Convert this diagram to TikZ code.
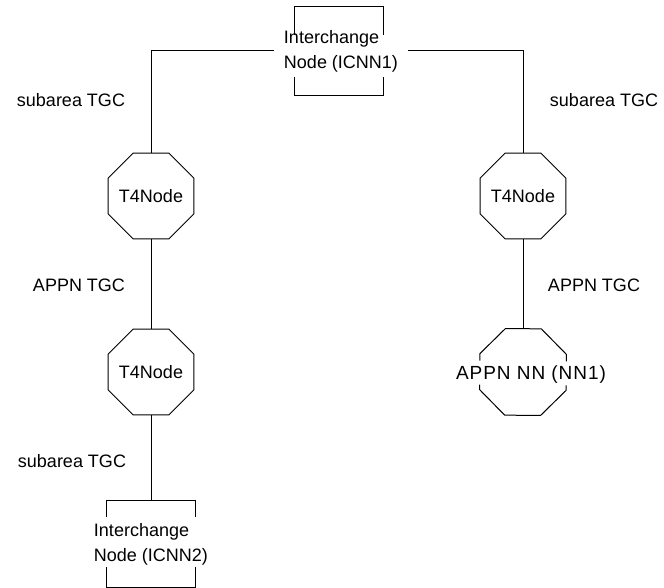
\documentclass[tikz,border=0pt]{standalone}
\usepackage{fontspec}
\setmainfont{Liberation Sans}
\usetikzlibrary{positioning, shapes.geometric}

\tikzset{
  octa/.style={regular polygon, regular polygon sides=8, draw, line width=1pt,
    minimum size=93pt, inner sep=0pt},
  icbox/.style={rectangle, minimum width=88pt, minimum height=88pt, inner sep=0pt},
  lbl/.style={inner sep=0pt, font=\fontsize{18pt}{25pt}\selectfont},
  link/.style={line width=1pt},
}

\begin{document}
\begin{tikzpicture}[x=1pt, y=1pt]
  \useasboundingbox (0,0) rectangle (664,-588);

  % Define nodes
  \node[icbox] (icnn1) at (339,-51) {};
  \node[lbl, align=left, inner xsep=10pt] (icnn1txt) at (341,-51) {Interchange\\Node (ICNN1)};
  \node[octa] (t4a) at (151,-196) {};
  \node[lbl] (t4atxt) at (t4a) {T4Node};
  \node[octa] (t4c) at (151,-372) {};
  \node[lbl] (t4ctxt) at (t4c) {T4Node};
  \node[icbox, minimum width=89pt, minimum height=86pt] (icnn2) at (151,-544) {};
  \node[lbl, align=left] (icnn2txt) at (icnn2) {Interchange\\Node (ICNN2)};
  \node[octa] (t4b) at (523,-196) {};
  \node[lbl] (t4btxt) at (t4b) {T4Node};
  \node[octa, draw=none] (nn1) at (523,-372) {};
  \node[lbl, font=\fontsize{19pt}{25pt}\selectfont\addfontfeature{LetterSpace=5}] (nn1txt)
    at ([xshift=8pt,yshift=-3pt]nn1.center) {APPN NN (NN1)};

  % Link labels
  \node[lbl] (sub1) at (71,-100) {subarea TGC};
  \node[lbl] (sub2) at (604,-100) {subarea TGC};
  \node[lbl] (appn1) at (79,-285) {APPN TGC};
  \node[lbl] (appn2) at (594,-285) {APPN TGC};
  \node[lbl] (sub3) at (72,-461) {subarea TGC};

  % Open boxes and the open octagon
  \draw[link] ([yshift=-28pt]icnn1.north west) |- (icnn1.north east) -- ++(0,-28);
  \draw[link] ([yshift=18pt]icnn1.south west) |- (icnn1.south east) -- ++(0,18);
  \draw[link] ([yshift=-16pt]icnn2.north west) |- (icnn2.north east) -- ++(0,-16);
  \draw[link] ([yshift=20pt]icnn2.south west) |- (icnn2.south east) -- ++(0,20);
  \draw[link] ([yshift=-7pt]nn1.157.5) -- (nn1.157.5) -- (nn1.112.5)
    -- (nn1.67.5) -- (nn1.22.5) -- ++(0,-7);
  \draw[link] ([yshift=5pt]nn1.202.5) -- (nn1.202.5) -- (nn1.247.5)
    -- (nn1.292.5) -- (nn1.337.5) -- ++(0,5);

  % Connect the nodes
  \draw[link] (icnn1txt.west) -| (t4a.north);
  \draw[link] (icnn1txt.east) -| (t4b.north);
  \draw[link] (t4a.south) -- (t4c.north);
  \draw[link] (t4c.south) -- (icnn2.north);
  \draw[link] (t4b.south) -- (nn1.north);

\end{tikzpicture}
\end{document}
